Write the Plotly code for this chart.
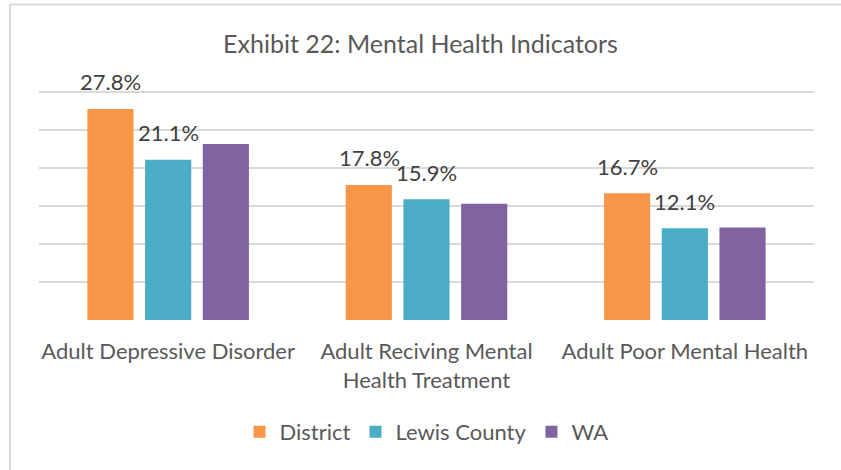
import plotly.graph_objects as go

categories = ["Adult Depressive Disorder", "Adult Reciving Mental<br>Health Treatment", "Adult Poor Mental Health"]
series_names = ["District", "Lewis County", "WA"]
district = [27.8, 17.8, 16.7]
lewis = [21.1, 15.9, 12.1]
wa = [23.2, 15.3, 12.2]
colors = ["#F79646", "#4BACC6", "#8064A2"]
labeled = [True, True, False]

FONT = "Lato"
TXT = "#595959"

fig = go.Figure()
for name, vals, col in zip(series_names, [district, lewis, wa], colors):
    fig.add_trace(go.Bar(x=categories, y=vals, name=name, marker_color=col,
                         marker_line_width=0))

# data labels (District and Lewis County only)
slot = 57.5
for i, (vals, show) in enumerate(zip([district, lewis, wa], labeled)):
    if not show:
        continue
    for c, v in zip(categories, vals):
        fig.add_annotation(x=c, y=v, text=f"{v:.1f}%", showarrow=False,
                           xshift=(i - 1) * slot, yshift=27,
                           font=dict(family=FONT, size=22, color="#404040"))

# outer border (top and left)
H = 230.3
fig.add_shape(type="line", xref="paper", yref="paper", x0=-0.0374, x1=1.04, y0=316 / H, y1=316 / H,
              line=dict(color="#d9d9d9", width=2))
fig.add_shape(type="line", xref="paper", yref="paper", x0=-0.0374, x1=-0.0374, y0=316 / H, y1=-160 / H,
              line=dict(color="#d9d9d9", width=2))

fig.update_layout(
    width=841, height=470,
    margin=dict(l=39, r=27, t=470 - 150 - H, b=150),
    paper_bgcolor="white", plot_bgcolor="white",
    barmode="group", bargap=0.33, bargroupgap=0.2,
    title=dict(text="Exhibit 22: Mental Health Indicators", x=0.5, xanchor="center",
               y=1 - 44 / 470, yanchor="middle",
               font=dict(family=FONT, size=25, color=TXT)),
    font=dict(family=FONT, size=22, color=TXT),
    legend=dict(orientation="h", x=0.5, xanchor="center", y=-112 / H, yanchor="middle",
                font=dict(family=FONT, size=22, color=TXT), traceorder="normal",
                itemwidth=30),
    showlegend=True,
)
fig.update_xaxes(showgrid=False, showline=False, ticks="", tickfont=dict(size=22, color=TXT),
                 ticklabelstandoff=16)
fig.update_yaxes(range=[0, 30.3], dtick=5, showgrid=True, gridcolor="#d9d9d9", gridwidth=1.5,
                 showticklabels=False, zeroline=False, showline=False)

fig.write_html("out.html", config={"displayModeBar": False},
               post_script="document.body.style.margin='0';document.body.style.overflow='hidden';")
